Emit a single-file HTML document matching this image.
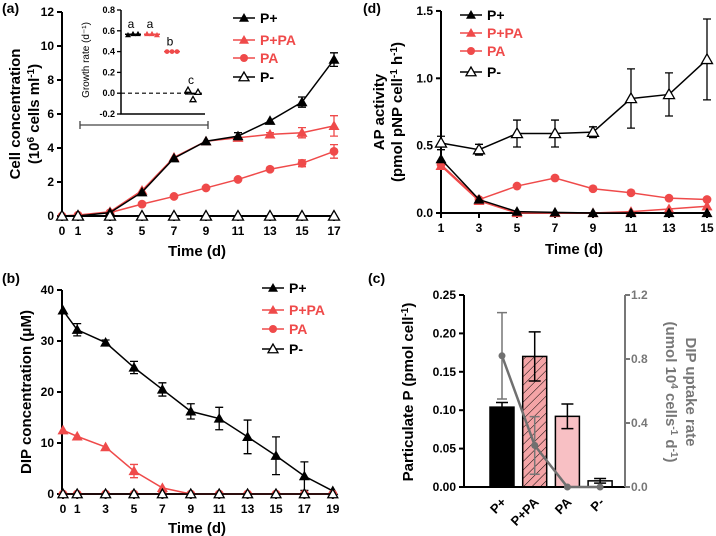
<!DOCTYPE html>
<html><head><meta charset="utf-8"><style>
html,body{margin:0;padding:0;background:#fff}
svg{display:block;font-family:"Liberation Sans",Arial,sans-serif}
.tk{font-size:12px;font-weight:bold;fill:#000}
.ctk{font-size:13px;font-weight:bold;fill:#000}
.ax{font-size:15px;font-weight:bold;fill:#000}
.lg{font-size:14px;font-weight:bold}
.pl{font-size:14px;font-weight:bold}
</style></head><body>
<svg id="fig" width="716" height="536" viewBox="0 0 716 536" xmlns="http://www.w3.org/2000/svg">
<text x="2" y="13" class="pl">(a)</text>
<text x="363" y="13" class="pl">(d)</text>
<text x="2" y="283" class="pl">(b)</text>
<text x="368" y="283" class="pl">(c)</text>
<text class="ax" transform="translate(20,114) rotate(-90)" text-anchor="middle">Cell concentration</text>
<text class="ax" transform="translate(39,114) rotate(-90)" text-anchor="middle">(10<tspan dy="-5" font-size="10">6</tspan><tspan dy="5"> cells ml</tspan><tspan dy="-5" font-size="10">-1</tspan><tspan dy="5">)</tspan></text>
<text class="ax" x="197" y="256" text-anchor="middle">Time (d)</text>
<text class="ax" transform="translate(384,112) rotate(-90)" text-anchor="middle">AP activity</text>
<text class="ax" transform="translate(402,112) rotate(-90)" text-anchor="middle">(pmol pNP cell<tspan dy="-5" font-size="10">-1</tspan><tspan dy="5"> h</tspan><tspan dy="-5" font-size="10">-1</tspan><tspan dy="5">)</tspan></text>
<text class="ax" x="574" y="254" text-anchor="middle">Time (d)</text>
<text class="ax" transform="translate(31,392) rotate(-90)" text-anchor="middle">DIP concentration (μM)</text>
<text class="ax" x="197" y="533" text-anchor="middle">Time (d)</text>
<text class="ax" transform="translate(413,392) rotate(-90)" text-anchor="middle">Particulate P (pmol cell<tspan dy="-5" font-size="10">-1</tspan><tspan dy="5">)</tspan></text>
<text class="ax" style="fill:#777" transform="translate(686,392) rotate(90)" text-anchor="middle">DIP uptake rate</text>
<text class="ax" style="fill:#777" transform="translate(666,392) rotate(90)" text-anchor="middle">(umol 10<tspan dy="-5" font-size="10">4</tspan><tspan dy="5"> cells</tspan><tspan dy="-5" font-size="10">-1</tspan><tspan dy="5"> d</tspan><tspan dy="-5" font-size="10">-1</tspan><tspan dy="5">)</tspan></text>
</svg>
<script>
// Panel (a) data
const aDays = [0,1,3,5,7,9,11,13,15,17];
const aPplus = [0,0,0.2,1.4,3.4,4.4,4.7,5.6,6.7,9.2];
const aPplusErr = [0,0,0,0,0,0,0.2,0,0.3,0.4];
const aPPA = [0,0.05,0.25,1.5,3.45,4.4,4.6,4.8,4.9,5.3];
const aPPAErr = [0,0,0,0,0,0,0,0.1,0.3,0.6];
const aPA = [0,0.05,0.2,0.7,1.15,1.65,2.15,2.75,3.1,3.8];
const aPAErr = [0,0,0,0,0,0,0,0,0.2,0.4];
const aPminus = [0,0,0,0,0,0,0,0,0,0];
const aYTicks = [0,2,4,6,8,10,12];
// Inset growth rate
const insetPplus = [0.56,0.57,0.57];
const insetPPA = [0.57,0.57,0.56];
const insetPA = [0.40,0.40,0.40];
const insetPminus = [0.03,-0.06,0.01];
const insetLetters = ["a","a","b","c"];
const insetTicks = [-0.2,0.0,0.2,0.4,0.6,0.8];
// Panel (d) data
const dDays = [1,3,5,7,9,11,13,15];
const dPplus = [0.40,0.10,0.01,0.005,0,0,0,0];
const dPPA = [0.35,0.09,0,0,0,0.01,0.03,0.05];
const dPA = [0.36,0.10,0.20,0.26,0.18,0.15,0.11,0.10];
const dPminus = [0.52,0.47,0.59,0.59,0.60,0.85,0.88,1.14];
const dPminusErr = [0.05,0.04,0.1,0.1,0.04,0.22,0.16,0.3];
const dYTicks = [0,0.5,1.0,1.5];
// Panel (b) data
const bDays = [0,1,3,5,7,9,11,13,15,17,19];
const bPplus = [36,32.2,29.7,24.8,20.5,16.2,14.8,11.2,7.5,3.5,0.6];
const bPplusErr = [0,1.2,0.5,1.2,1.3,1.5,2.2,3.3,3.7,2.8,0];
const bPPA = [12.5,11.3,9.2,4.5,1.2,0,0,0,0,0,0];
const bPPAErr = [0,0,0,1.3,0,0,0,0,0,0,0];
const bPA = [0,0,0,0,0,0,0,0,0,0,0];
const bPminus = [0,0,0,0,0,0,0,0,0,0,0];
const bYTicks = [0,10,20,30,40];
// Panel (c) data
const cCats = ["P+","P+PA","PA","P-"];
const cBars = [0.104,0.170,0.092,0.008];
const cBarErr = [0.006,0.032,0.016,0.003];
const cUptake = [0.82,0.26,0,0];
const cUptakeErr = [0.27,0.18,0,0];
const cLeftTicks = [0,0.05,0.10,0.15,0.20,0.25];
const cRightTicks = [0,0.4,0.8,1.2];

const NS="http://www.w3.org/2000/svg";
const svg=document.getElementById('fig');
const RED="#ef4a4a";
function mk(tag,attrs,parent){const e=document.createElementNS(NS,tag);for(const k in attrs)e.setAttribute(k,attrs[k]);(parent||svg).appendChild(e);return e;}
function group(name){const g=mk('g',{});


return g;}
function marker(g,type,x,y,s){
 let e;
 if(type==='circle'){e=mk('circle',{cx:x,cy:y,r:s*0.8,fill:RED},g);}
 else{const pts=`${x},${y-s} ${x-s},${y+s*0.75} ${x+s},${y+s*0.75}`;
  if(type==='tri')e=mk('polygon',{points:pts,fill:'#000'},g);
  else if(type==='tri-red')e=mk('polygon',{points:pts,fill:RED},g);
  else e=mk('polygon',{points:pts,fill:'#fff',stroke:'#000','stroke-width':1.3},g);}
 
 
}
function series(name,xs,ys,errs,sx,sy,color,type,s){
 const g=group(name);
 const pts=xs.map((d,i)=>sx(d)+','+sy(ys[i])).join(' ');
 const pl=mk('polyline',{points:pts,fill:'none',stroke:color,'stroke-width':1.5},g);
 
 
 if(errs)xs.forEach((d,i)=>{if(errs[i]>0){const x=sx(d),y1=sy(ys[i]+errs[i]),y2=sy(ys[i]-errs[i]);
  const eb=mk('path',{d:`M${x},${y1}V${y2}M${x-4},${y1}H${x+4}M${x-4},${y2}H${x+4}`,stroke:color,'stroke-width':1.3,fill:'none'},g);
  
  }});
 xs.forEach((d,i)=>marker(g,type,sx(d),sy(ys[i]),s));
}
function axes(name,x0,x1,y0,y1,yticks,sy,yfmt,xticks,sx){
 const g=group(name);
 mk('path',{d:`M${x0},${y1}V${y0}H${x1}`,stroke:'#000','stroke-width':2,fill:'none'},g);
 yticks.forEach(t=>{const y=sy(t);mk('line',{x1:x0-5,x2:x0,y1:y,y2:y,stroke:'#000','stroke-width':2},g);
  const tx=mk('text',{x:x0-8,y:y+4,'text-anchor':'end',class:'tk'},g);tx.textContent=yfmt(t);
  
  });
 xticks.forEach(t=>{const x=sx(t);mk('line',{x1:x,x2:x,y1:y0,y2:y0+5,stroke:'#000','stroke-width':2},g);
  const tx=mk('text',{x:x,y:y0+19,'text-anchor':'middle',class:'tk'},g);tx.textContent=t;
  
  });
}
function legend(name,x,ys,fs){
 const g=group(name);
 const items=[['P+','#000','tri'],['P+PA',RED,'tri-red'],['PA',RED,'circle'],['P-','#000','open']];
 items.forEach((it,i)=>{const y=ys[i];mk('line',{x1:x,x2:x+22,y1:y,y2:y,stroke:it[1],'stroke-width':1.5},g);
  marker(g,it[2],x+11,y,5);
  const t=mk('text',{x:x+27,y:y+5,class:'lg',fill:it[1],'font-size':fs},g);t.textContent=it[0];
  
  });
}
// ---- Panel (a)
const ax=d=>62+16*d, ay=v=>216-17*v;
axes('panel-a-axes',62,336,216,12,aYTicks,ay,t=>t,aDays,ax);
series('a-series-pa',aDays,aPA,aPAErr,ax,ay,RED,'circle',5.5);
series('a-series-p-pa',aDays,aPPA,aPPAErr,ax,ay,RED,'tri-red',5.5);
series('a-series-p-plus',aDays,aPplus,aPplusErr,ax,ay,'#000','tri',5.5);
mk('path',{d:'M62,216H336',stroke:'#000','stroke-width':2});
series('a-series-p-minus',aDays,aPminus,null,ax,ay,'#000','open',5.5);
legend('panel-a-legend',233,[18,40,58,77],15);
// scale bar
const sb=mk('path',{d:'M80,121V129M80,125H208M208,121V129',stroke:'#444','stroke-width':1.3,fill:'none'});


// inset
const iy=v=>93.2-104*v;
const ig=group('growth-rate-inset');
mk('path',{d:'M121,10V114H205',stroke:'#000','stroke-width':1.5,fill:'none'},ig);
insetTicks.forEach(t=>{const y=iy(t);mk('line',{x1:117,x2:121,y1:y,y2:y,stroke:'#000','stroke-width':1.3},ig);
 const tx=mk('text',{x:115,y:y+3,'text-anchor':'end','font-size':9,'font-weight':'bold'},ig);tx.textContent=t.toFixed(1);
 
 });
const it=mk('text',{transform:'translate(89,60) rotate(-90)','text-anchor':'middle','font-size':10},ig);
it.textContent='Growth rate (d\u207B\u00B9)';


mk('line',{x1:121,x2:205,y1:iy(0),y2:iy(0),stroke:'#000','stroke-width':1.2,'stroke-dasharray':'4,3'},ig);
const groups=[[insetPplus,133,'tri','#000'],[insetPPA,152,'tri-red',RED],[insetPA,172,'circle',RED],[insetPminus,193,'open','#000']];
groups.forEach((gr,k)=>{const vals=gr[0];const mean=vals.reduce((a,b)=>a+b,0)/vals.length;
 mk('line',{x1:gr[1]-8,x2:gr[1]+8,y1:iy(mean),y2:iy(mean),stroke:gr[3],'stroke-width':1.5},ig);
 vals.forEach((v,i)=>marker(ig,gr[2],gr[1]-5+5*i,iy(v),3));
 const top=Math.max(...vals);
 const l=mk('text',{x:gr[1]-2,y:iy(top)-6,'text-anchor':'middle','font-size':12},ig);l.textContent=insetLetters[k];
 
 });
// ---- Panel (d)
const dx=d=>441+19*(d-1), dy=v=>213-134.7*v;
axes('panel-d-axes',441,710,213,11,dYTicks,dy,t=>t.toFixed(1),dDays,dx);
series('d-series-p-minus',dDays,dPminus,dPminusErr,dx,dy,'#000','open',5.5);
series('d-series-pa',dDays,dPA,null,dx,dy,RED,'circle',5.5);
series('d-series-p-pa',dDays,dPPA,null,dx,dy,RED,'tri-red',5.5);
series('d-series-p-plus',dDays,dPplus,null,dx,dy,'#000','tri',5.5);
legend('panel-d-legend',460,[15,33,51,72],14);
// ---- Panel (b)
const bx=d=>63+14.2*d, by=v=>494-5.1*v;
axes('panel-b-axes',62,337,494,290,bYTicks,by,t=>t,bDays,bx);
series('b-series-p-plus',bDays,bPplus,bPplusErr,bx,by,'#000','tri',5.5);
series('b-series-p-pa',bDays,bPPA,bPPAErr,bx,by,RED,'tri-red',5.5);
series('b-series-pa',bDays,bPA,null,bx,by,RED,'circle',5.5);
series('b-series-p-minus',bDays,bPminus,null,bx,by,'#000','open',5);
legend('panel-b-legend',262,[288,310,329,349],15);
// ---- Panel (c)
const cy=v=>487-768*v, cry=v=>487-160*v, cx=i=>502+32.7*i;
const defs=mk('defs',{});
const pat=mk('pattern',{id:'hatch',width:6,height:6,patternUnits:'userSpaceOnUse',patternTransform:'rotate(45)'},defs);
mk('rect',{width:6,height:6,fill:'#f4a4a6'},pat);
mk('line',{x1:0,y1:0,x2:0,y2:6,stroke:'#000','stroke-width':1},pat);
const fills=['#000','url(#hatch)','#f8c0c4','#fff'];
const cg=group('panel-c-bars');
cBars.forEach((v,i)=>{const x=cx(i);
 const r=mk('rect',{x:x-12,y:cy(v),width:24,height:487-cy(v),fill:fills[i],stroke:'#000','stroke-width':1.5},cg);
 
 
 const y1=cy(v+cBarErr[i]),y2=cy(v-cBarErr[i]);
 const eb=mk('path',{d:`M${x},${y1}V${y2}M${x-6},${y1}H${x+6}M${x-6},${y2}H${x+6}`,stroke:'#000','stroke-width':1.5,fill:'none'},cg);
 
 
 const t=mk('text',{class:'ctk',transform:`translate(${x+5},${503}) rotate(-45)`,'text-anchor':'end'},cg);t.textContent=cCats[i];
 
 });
const lg=group('panel-c-left-axis');
mk('path',{d:'M464,295V487H625',stroke:'#000','stroke-width':2,fill:'none'},lg);
cLeftTicks.forEach(t=>{const y=cy(t);mk('line',{x1:459,x2:464,y1:y,y2:y,stroke:'#000','stroke-width':2},lg);
 const tx=mk('text',{x:456,y:y+4,'text-anchor':'end',class:'tk'},lg);tx.textContent=t.toFixed(2);
 
 });
const rg=group('panel-c-right-axis');
mk('path',{d:'M625,295V487',stroke:'#777','stroke-width':2,fill:'none'},rg);
cRightTicks.forEach(t=>{const y=cry(t);mk('line',{x1:625,x2:630,y1:y,y2:y,stroke:'#777','stroke-width':2},rg);
 const tx=mk('text',{x:631,y:y+4,class:'tk',style:'fill:#777'},rg);tx.textContent=t.toFixed(1);
 
 });
const ug=group('uptake-rate-series');
const upl=mk('polyline',{points:cUptake.map((v,i)=>cx(i)+','+cry(v)).join(' '),fill:'none',stroke:'#707070','stroke-width':2.5},ug);


cUptake.forEach((v,i)=>{const x=cx(i);
 if(cUptakeErr[i]>0){const y1=cry(v+cUptakeErr[i]),y2=cry(v-cUptakeErr[i]);
  const eb=mk('path',{d:`M${x},${y1}V${y2}M${x-5},${y1}H${x+5}M${x-5},${y2}H${x+5}`,stroke:'#777','stroke-width':1.5,fill:'none'},ug);
  
  }
 const c=mk('circle',{cx:x,cy:cry(v),r:3.5,fill:'#707070'},ug);
 
 });
</script>
</body></html>
